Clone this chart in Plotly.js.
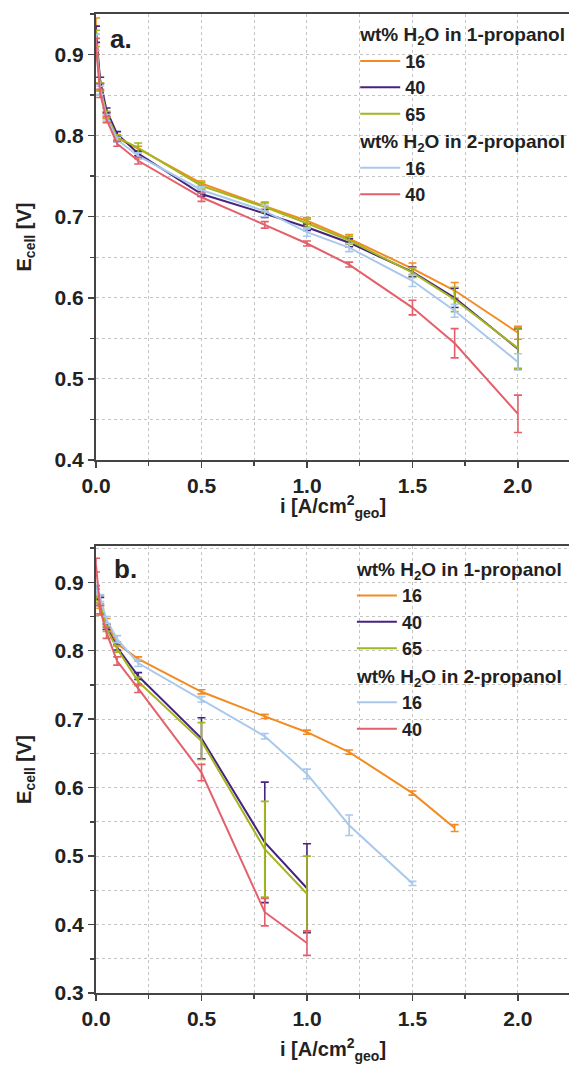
<!DOCTYPE html>
<html>
<head>
<meta charset="utf-8">
<script src="https://cdn.plot.ly/plotly-3.0.1.min.js"></script>
<style>html,body{margin:0;padding:0;background:#fff;}</style>
</head>
<body>
<div id="chart" style="width:569px;height:1073px;"></div>
<script>
// ---------- Panel a ----------
const xA = [0, 0.02, 0.05, 0.1, 0.2, 0.5, 0.8, 1.0, 1.2, 1.5, 1.7, 2.0];
const a_p1_16 = [0.935, 0.860, 0.825, 0.797, 0.784, 0.741, 0.713, 0.695, 0.673, 0.636, 0.609, 0.557];
const a_p1_16_err = [0.010, 0.005, 0.004, 0.003, 0.003, 0.003, 0.004, 0.004, 0.005, 0.007, 0.010, 0.008];
const a_p1_40 = [0.925, 0.868, 0.831, 0.802, 0.778, 0.728, 0.704, 0.687, 0.668, 0.632, 0.600, 0.537];
const a_p1_40_err = [0.010, 0.004, 0.003, 0.003, 0.003, 0.003, 0.005, 0.004, 0.005, 0.006, 0.012, 0.025];
const a_p1_65 = [0.920, 0.860, 0.826, 0.798, 0.785, 0.738, 0.712, 0.692, 0.671, 0.631, 0.598, 0.538];
const a_p1_65_err = [0.010, 0.005, 0.004, 0.003, 0.006, 0.004, 0.006, 0.005, 0.005, 0.006, 0.015, 0.025];
const a_p2_16 = [0.915, 0.856, 0.822, 0.795, 0.775, 0.733, 0.707, 0.681, 0.662, 0.621, 0.584, 0.521];
const a_p2_16_err = [0.010, 0.005, 0.004, 0.003, 0.004, 0.004, 0.007, 0.005, 0.005, 0.007, 0.008, 0.010];
const a_p2_40 = [0.910, 0.852, 0.820, 0.790, 0.769, 0.724, 0.690, 0.667, 0.641, 0.588, 0.544, 0.457];
const a_p2_40_err = [0.010, 0.005, 0.004, 0.003, 0.004, 0.005, 0.004, 0.003, 0.003, 0.009, 0.018, 0.023];

// ---------- Panel b ----------
const xB_p1_16 = [0, 0.02, 0.05, 0.1, 0.2, 0.5, 0.8, 1.0, 1.2, 1.5, 1.7];
const b_p1_16 = [0.885, 0.857, 0.843, 0.810, 0.788, 0.740, 0.704, 0.681, 0.652, 0.592, 0.541];
const b_p1_16_err = [0.005, 0.005, 0.004, 0.003, 0.003, 0.003, 0.003, 0.003, 0.003, 0.003, 0.005];
const xB_p1_40 = [0, 0.02, 0.05, 0.1, 0.2, 0.5, 0.8, 1.0];
const b_p1_40 = [0.885, 0.872, 0.835, 0.805, 0.763, 0.672, 0.520, 0.453];
const b_p1_40_err = [0.010, 0.006, 0.004, 0.004, 0.005, 0.030, 0.088, 0.065];
const xB_p1_65 = [0, 0.02, 0.05, 0.1, 0.2, 0.5, 0.8, 1.0];
const b_p1_65 = [0.880, 0.875, 0.832, 0.803, 0.755, 0.668, 0.510, 0.445];
const b_p1_65_err = [0.010, 0.006, 0.004, 0.005, 0.006, 0.027, 0.070, 0.055];
const xB_p2_16 = [0, 0.02, 0.05, 0.1, 0.2, 0.5, 0.8, 1.0, 1.2, 1.5];
const b_p2_16 = [0.890, 0.877, 0.845, 0.817, 0.782, 0.729, 0.675, 0.620, 0.545, 0.460];
const b_p2_16_err = [0.006, 0.005, 0.005, 0.005, 0.005, 0.004, 0.004, 0.007, 0.015, 0.003];
const xB_p2_40 = [0, 0.02, 0.05, 0.1, 0.2, 0.5, 0.8, 1.0];
const b_p2_40 = [0.925, 0.860, 0.826, 0.785, 0.745, 0.622, 0.418, 0.373];
const b_p2_40_err = [0.010, 0.006, 0.008, 0.006, 0.006, 0.012, 0.020, 0.018];

const legendNames = ["16", "40", "65", "16", "40"];
const groupTitle1 = "wt% H<sub>2</sub>O in 1-propanol";
const groupTitle2 = "wt% H<sub>2</sub>O in 2-propanol";
const xTitle = "i [A/cm<sup>2</sup><sub>geo</sub>]";
const yTitle = "E<sub>cell</sub> [V]";
const colors = ["#F38B22", "#46237F", "#A3B61F", "#A8C8EC", "#E3606B"];

const FONT = "Liberation Sans, Arial, Helvetica, sans-serif";

function mk(x, y, err, idx, panel) {
  const isP1 = idx < 3;
  const t = {
    x: x, y: y, type: "scatter", mode: "lines",
    name: legendNames[idx],
    line: {color: colors[idx], width: 2},
    error_y: {type: "data", array: err, visible: true, color: colors[idx], thickness: 1.6, width: 4},
    xaxis: panel === "a" ? "x" : "x2",
    yaxis: panel === "a" ? "y" : "y2",
    legend: panel === "a" ? "legend" : "legend2",
    legendgroup: panel + (isP1 ? "p1" : "p2"),
  };
  const gt = {family: FONT, size: 19, weight: "bold", color: "#222"};
  if (idx === 0) t.legendgrouptitle = {text: groupTitle1, font: gt};
  if (idx === 3) t.legendgrouptitle = {text: groupTitle2, font: gt};
  return t;
}

const data = [
  mk(xA, a_p1_16, a_p1_16_err, 0, "a"),
  mk(xA, a_p1_40, a_p1_40_err, 1, "a"),
  mk(xA, a_p1_65, a_p1_65_err, 2, "a"),
  mk(xA, a_p2_16, a_p2_16_err, 3, "a"),
  mk(xA, a_p2_40, a_p2_40_err, 4, "a"),
  mk(xB_p1_16, b_p1_16, b_p1_16_err, 0, "b"),
  mk(xB_p1_40, b_p1_40, b_p1_40_err, 1, "b"),
  mk(xB_p1_65, b_p1_65, b_p1_65_err, 2, "b"),
  mk(xB_p2_16, b_p2_16, b_p2_16_err, 3, "b"),
  mk(xB_p2_40, b_p2_40, b_p2_40_err, 4, "b"),
];

const tickFont = {family: FONT, size: 21, weight: "bold", color: "#222"};
const titleFont = {family: FONT, size: 20, weight: "bold", color: "#222"};

function xAxis(anchor) {
  return {
    anchor: anchor, domain: [0, 1], range: [0, 2.242], dtick: 0.5, tick0: 0,
    tickformat: ".1f",
    showline: true, linecolor: "#444", linewidth: 2, mirror: true,
    ticks: "outside", ticklen: 6, tickwidth: 1.5, tickcolor: "#444",
    showgrid: true, gridcolor: "#c4c4c4", griddash: "dot", gridwidth: 1,
    minor: {dtick: 0.25, ticks: "outside", ticklen: 4, tickcolor: "#444", showgrid: true, gridcolor: "#c4c4c4", griddash: "dot"},
    zeroline: false, tickfont: tickFont,
  };
}
function yAxis(anchor, domain, range) {
  return {
    anchor: anchor, domain: domain, range: range, dtick: 0.1, tick0: 0, tickformat: ".1f",
    showline: true, linecolor: "#444", linewidth: 2, mirror: false,
    ticks: "outside", ticklen: 6, tickwidth: 1.5, tickcolor: "#444",
    showgrid: true, gridcolor: "#c4c4c4", griddash: "dot", gridwidth: 1,
    minor: {dtick: 0.05, ticks: "outside", ticklen: 4, tickcolor: "#444", showgrid: true, gridcolor: "#c4c4c4", griddash: "dot"},
    zeroline: false, tickfont: tickFont,
    title: {text: yTitle, font: titleFont, standoff: 18},
  };
}

const legendCommon = {
  xanchor: "left", yanchor: "top", bgcolor: "rgba(0,0,0,0)",
  font: {family: FONT, size: 18, weight: "bold", color: "#222"},
  traceorder: "grouped", tracegroupgap: 0, itemwidth: 40,
};

const layout = {
  width: 569, height: 1073,
  margin: {l: 96, r: 0, t: 14, b: 80, autoexpand: false},
  paper_bgcolor: "#fff", plot_bgcolor: "#fff",
  showlegend: true,
  xaxis: xAxis("y"),
  yaxis: yAxis("x", [0.5444, 1], [0.4, 0.95]),
  xaxis2: xAxis("y2"),
  yaxis2: yAxis("x2", [0, 0.4566], [0.3, 0.953]),
  legend: Object.assign({x: 0.548, y: 0.999}, legendCommon),
  legend2: Object.assign({x: 0.541, y: 0.453}, legendCommon),
  annotations: [
    {text: "a.", xref: "x domain", yref: "y domain", x: 0.026, y: 0.945, xanchor: "left", yanchor: "middle",
     showarrow: false, font: {family: FONT, size: 26, weight: "bold", color: "#222"}},
    {text: "b.", xref: "x2 domain", yref: "y2 domain", x: 0.033, y: 0.948, xanchor: "left", yanchor: "middle",
     showarrow: false, font: {family: FONT, size: 26, weight: "bold", color: "#222"}},
    {text: xTitle, xref: "paper", yref: "paper", x: 0.5, y: 0.497, xanchor: "center", yanchor: "middle",
     showarrow: false, font: titleFont},
    {text: xTitle, xref: "paper", yref: "paper", x: 0.5, y: -0.058, xanchor: "center", yanchor: "middle",
     showarrow: false, font: titleFont},
  ],
};

Plotly.newPlot("chart", data, layout, {displayModeBar: false, staticPlot: true});
</script>
</body>
</html>
